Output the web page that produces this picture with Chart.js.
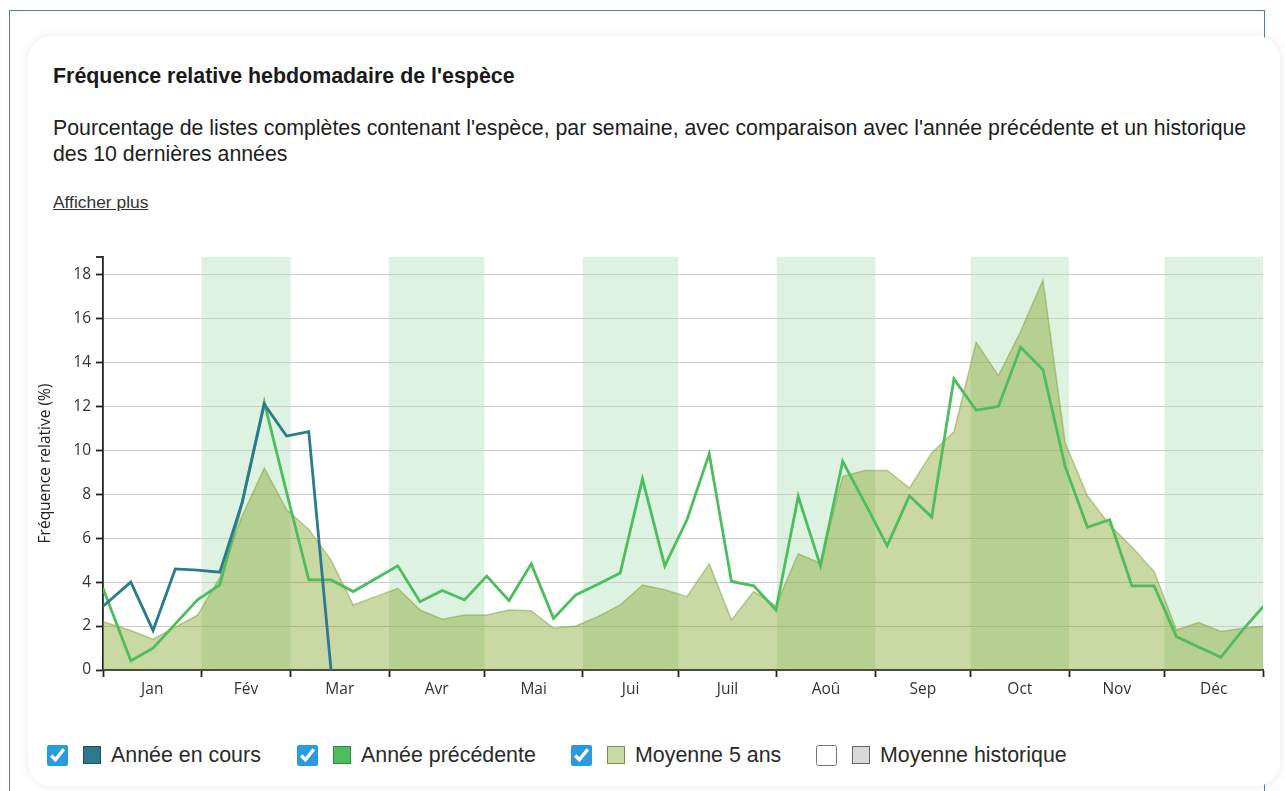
<!DOCTYPE html>
<html lang="fr">
<head>
<meta charset="utf-8">
<script src="https://cdn.jsdelivr.net/npm/chart.js@4.4.1/dist/chart.umd.min.js"></script>
<style>
  html, body { margin:0; padding:0; background:#fff; width:1285px; height:791px; overflow:hidden;
    font-family:"Liberation Sans", Arial, sans-serif; color:#222; }
  #frame { position:absolute; left:9px; top:10px; width:1254px; height:820px; border:1px solid #4a7cc9; border-bottom:none; }
  #card { position:absolute; left:28px; top:36px; width:1252px; height:750px; border-radius:24px; background:#fff;
    box-shadow:0 0 10px 2px rgba(0,0,0,0.06); }
  #title { position:absolute; left:53px; top:63px; margin:0; font-size:21.4px; line-height:26px; font-weight:bold; color:#1a1a1a; white-space:nowrap; }
  #subtitle { position:absolute; left:53px; top:115px; width:1215px; margin:0; font-size:21.3px; line-height:26px; color:#1e1e1e; }
  #more { position:absolute; left:53px; top:191px; font-size:17.4px; line-height:22px; color:#333; text-decoration:underline; }
  #chartWrap { position:absolute; left:20px; top:240px; width:1250px; height:470px; }
  .legItem { position:absolute; top:743px; height:24px; display:flex; align-items:center; font-size:21.4px; color:#2a2a2a; white-space:nowrap; }
  .legItem input { width:21px; height:21px; margin:0 15px 0 0; accent-color:#2b9be0; }
  .sw { width:16px; height:16px; margin-right:10px; border:1px solid #555; }
</style>
</head>
<body>
<div id="frame"></div>
<div id="card"></div>
<div id="title">Fréquence relative hebdomadaire de l'espèce</div>
<div id="subtitle">Pourcentage de listes complètes contenant l'espèce, par semaine, avec comparaison avec l'année précédente et un historique des 10 dernières années</div>
<div id="more">Afficher plus</div>
<div id="chartWrap"><canvas id="c" width="1250" height="470"></canvas></div>

<div class="legItem" style="left:47px"><input type="checkbox" checked><span class="sw" style="background:#2e788b;border-color:#1d4f5c"></span>Année en cours</div>
<div class="legItem" style="left:297px"><input type="checkbox" checked><span class="sw" style="background:#4dbd5e;border-color:#2f8a40"></span>Année précédente</div>
<div class="legItem" style="left:571px"><input type="checkbox" checked><span class="sw" style="background:#cbd9a5;border-color:#7d8a5e"></span>Moyenne 5 ans</div>
<div class="legItem" style="left:816px"><input type="checkbox"><span class="sw" style="background:#d9d9d9;border-color:#666"></span>Moyenne historique</div>

<script>
// ---- data ----
const MONTH_LABELS = ['Jan','Fév','Mar','Avr','Mai','Jui','Juil','Aoû','Sep','Oct','Nov','Déc'];
const MONTH_START_DAY = [0,31,59,90,120,151,181,212,243,273,304,334,365];
const SHADED_MONTHS = [1,3,5,7,9,11];
const Y_TICKS = [0,2,4,6,8,10,12,14,16,18];
const WEEKS = Array.from({length:53}, (_, i) => i);

const CURRENT_YEAR = [2.9, 4.0, 1.8, 4.6, 4.55, 4.45, 7.6, 12.1, 10.65, 10.85, 0];
const PREVIOUS_YEAR = [3.72, 0.42, 0.99, 2.1, 3.19, 3.87, 7.6, 12.18, 8.1, 4.1,
  4.1, 3.57, 4.15, 4.74, 3.11, 3.62, 3.19, 4.28, 3.16, 4.83,
  2.35, 3.42, 3.9, 4.41, 8.7, 4.74, 6.84, 9.84, 4.03, 3.83,
  2.73, 7.9, 4.74, 9.5, 7.6, 5.65, 7.93, 6.96, 13.25, 11.82,
  12.0, 14.69, 13.67, 9.27, 6.5, 6.84, 3.83, 3.83, 1.52, 1.05,
  0.58, 1.85, 3.0];
const AVG_5_YEARS = [2.2, 1.8, 1.4, 1.95, 2.5, 4.2, 7.0, 9.19, 7.3, 6.4,
  5.0, 2.96, 3.34, 3.72, 2.73, 2.31, 2.5, 2.5, 2.73, 2.7,
  1.9, 2.0, 2.43, 2.96, 3.87, 3.65, 3.34, 4.83, 2.28, 3.57,
  2.92, 5.29, 4.86, 8.81, 9.08, 9.08, 8.28, 9.88, 10.84, 14.92,
  13.4, 15.42, 17.74, 10.33, 7.93, 6.6, 5.6, 4.48, 1.82, 2.16,
  1.75, 1.9, 2.0];
const AVG_HISTORIC = []; // série masquée (case décochée)

// week index -> day of year
const weekDay = i => (i === 0 ? 0 : i * 7 + 1.75);
const toPoints = arr => arr.map((v, i) => ({x: weekDay(WEEKS[i]), y: v}));

const MONTH_MIDS = MONTH_LABELS.map((_, i) => (MONTH_START_DAY[i] + MONTH_START_DAY[i+1]) / 2);

const bandsPlugin = {
  id: 'bands',
  beforeDraw(chart) {
    const {ctx, chartArea, scales} = chart;
    ctx.save();
    ctx.fillStyle = '#def2e2';
    SHADED_MONTHS.forEach(m => {
      const x0 = scales.x.getPixelForValue(MONTH_START_DAY[m]);
      const x1 = scales.x.getPixelForValue(MONTH_START_DAY[m+1]);
      ctx.fillRect(x0, chartArea.top, x1 - x0, chartArea.bottom - chartArea.top);
    });
    ctx.restore();
  },
  afterDraw(chart) {
    const {ctx, chartArea} = chart;
    ctx.save();
    ctx.strokeStyle = '#222';
    ctx.lineWidth = 1.8;
    ctx.beginPath();
    ctx.moveTo(chartArea.left - 7, chartArea.top);
    ctx.lineTo(chartArea.left, chartArea.top);
    ctx.stroke();
    ctx.restore();
  }
};

Chart.defaults.font.family = '"Open Sans", "Noto Sans", sans-serif';

new Chart(document.getElementById('c'), {
  type: 'line',
  data: {
    datasets: [
      { label: 'Année en cours', data: toPoints(CURRENT_YEAR), borderColor: '#2c7a8e', borderWidth: 2.8,
        pointRadius: 0, fill: false, tension: 0, order: 1 },
      { label: 'Année précédente', data: toPoints(PREVIOUS_YEAR), borderColor: '#4dbd5e', borderWidth: 2.8,
        pointRadius: 0, fill: false, tension: 0, order: 2 },
      { label: 'Moyenne 5 ans', data: toPoints(AVG_5_YEARS), borderColor: 'rgba(130,160,60,0.5)', borderWidth: 1.5,
        backgroundColor: 'rgba(122,158,25,0.4)', pointRadius: 0, fill: 'origin', tension: 0, order: 3 },
      { label: 'Moyenne historique', data: toPoints(AVG_HISTORIC), borderColor: '#999', backgroundColor: 'rgba(200,200,200,0.4)',
        pointRadius: 0, fill: 'origin', hidden: true, order: 4 }
    ]
  },
  options: {
    responsive: false,
    animation: false,
    devicePixelRatio: 1,
    layout: { padding: { left: 0, top: 17, right: 7, bottom: 0 } },
    plugins: { legend: { display: false }, tooltip: { enabled: false } },
    scales: {
      x: {
        type: 'linear', min: 0, max: 365,
        afterBuildTicks: s => {
          const vals = MONTH_START_DAY.concat(MONTH_MIDS).sort((a, b) => a - b);
          s.ticks = vals.map(v => ({value: v}));
        },
        afterFit: s => { s.height = 40; },
        ticks: {
          autoSkip: false, maxRotation: 0, minRotation: 0, padding: 3, color: '#333', font: { size: 15.5 },
          callback: v => { const i = MONTH_MIDS.indexOf(v); return i >= 0 ? MONTH_LABELS[i] : ''; }
        },
        grid: {
          drawOnChartArea: false, drawTicks: true, tickLength: 7, tickWidth: 1.8,
          tickColor: ctx => (ctx.tick && MONTH_START_DAY.includes(ctx.tick.value)) ? '#222' : 'rgba(0,0,0,0)'
        },
        border: { display: true, color: '#222', width: 1.8 }
      },
      y: {
        type: 'linear', min: 0, max: 18.8,
        afterBuildTicks: s => { s.ticks = Y_TICKS.map(v => ({value: v})); },
        afterFit: s => { s.width = 83; },
        ticks: { padding: 5, color: '#333', font: { size: 15.5 }, callback: v => String(v) },
        grid: { color: '#cccccc', lineWidth: 1, drawTicks: true, tickLength: 7, tickColor: '#222', tickWidth: 1.8 },
        border: { display: true, color: '#222', width: 1.8 },
        title: { display: true, text: 'Fréquence relative (%)', color: '#222', font: { size: 15.5 }, padding: { top: 16, bottom: 0 } }
      }
    }
  },
  plugins: [bandsPlugin]
});
</script>
</body>
</html>
